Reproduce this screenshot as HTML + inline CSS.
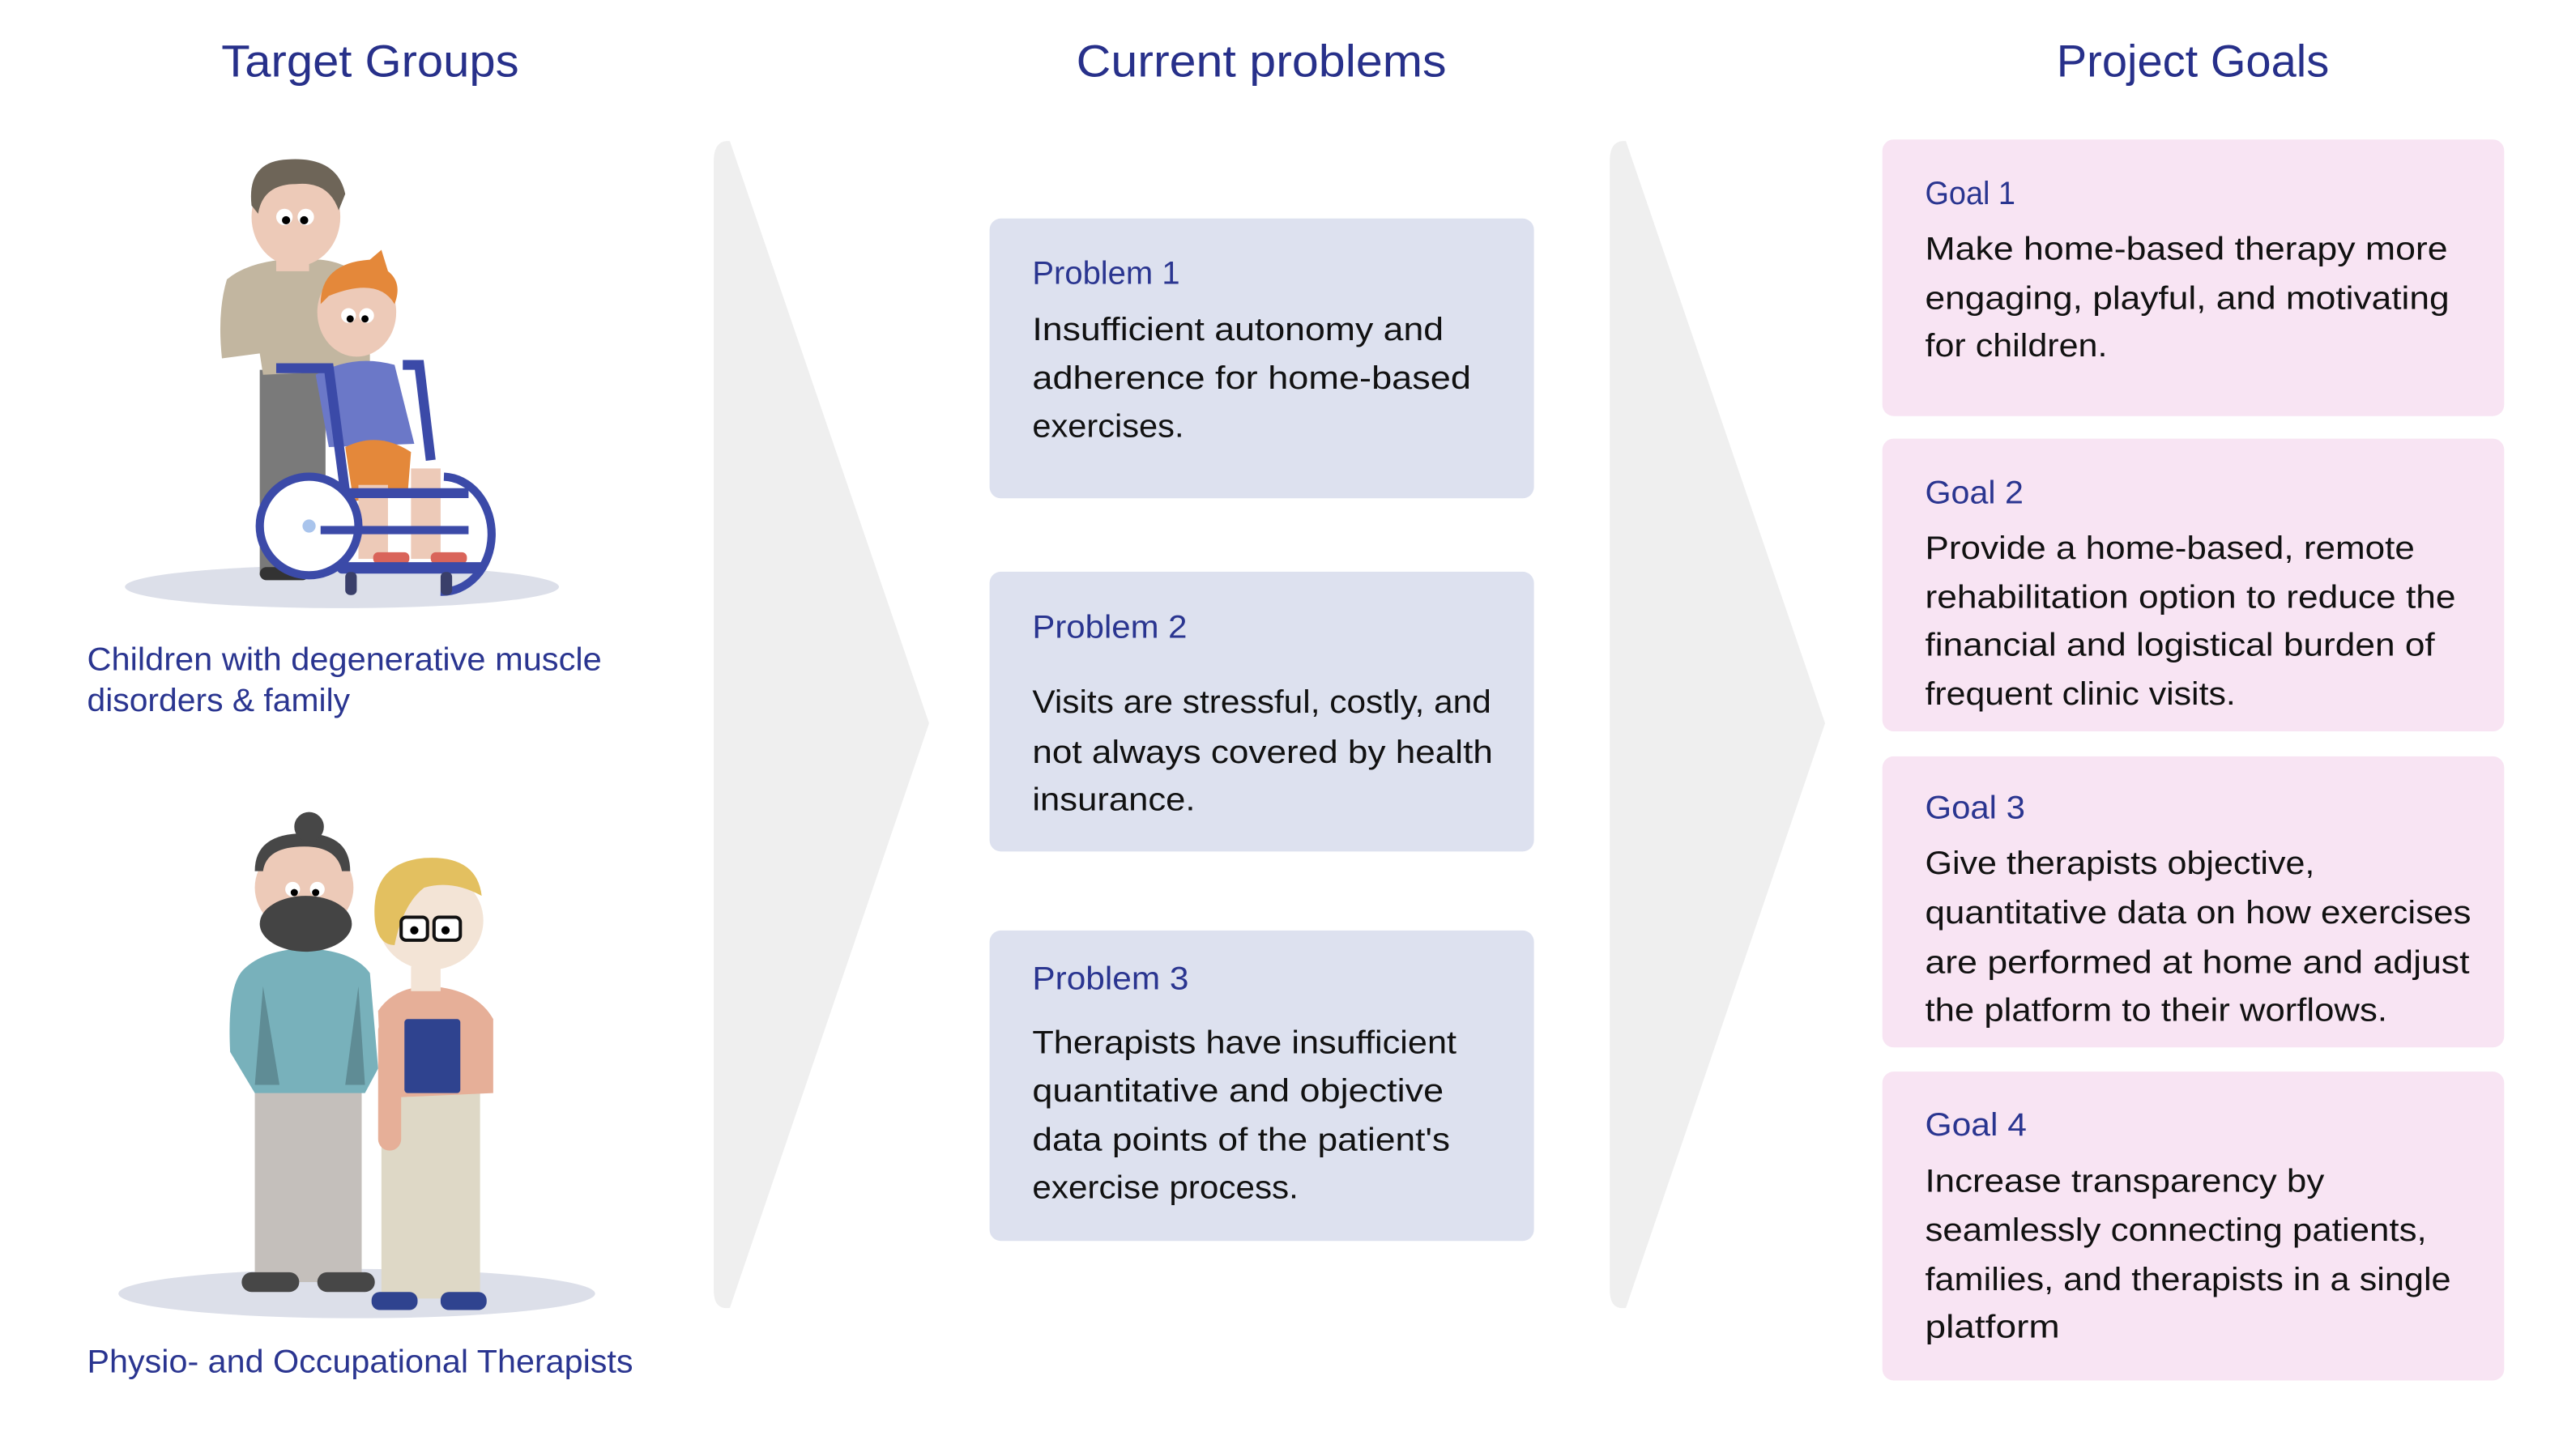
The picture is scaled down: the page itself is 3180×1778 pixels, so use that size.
<!DOCTYPE html>
<html><head><meta charset="utf-8"><style>
html,body{margin:0;padding:0;background:#fff;}
svg{display:block;}
text{font-family:"Liberation Sans",sans-serif;}
.t{fill:#27308a;font-size:56px;}
.l{fill:#2a3590;font-size:40px;}
.b{fill:#111;font-size:40px;}
.c{fill:#2a3590;font-size:40px;}
</style></head><body>
<svg width="3180" height="1778" viewBox="0 0 3180 1778" xmlns="http://www.w3.org/2000/svg">
<rect width="3180" height="1778" fill="#fff"/>
<g transform="scale(0.9956)">
<text class="t" x="459" y="95" text-anchor="middle" textLength="369" lengthAdjust="spacingAndGlyphs">Target Groups</text>
<text class="t" x="1564" y="95" text-anchor="middle" textLength="459" lengthAdjust="spacingAndGlyphs">Current problems</text>
<text class="t" x="2719" y="95" text-anchor="middle" textLength="338" lengthAdjust="spacingAndGlyphs">Project Goals</text>
<path d="M885,200 Q885,173 905,175 L1152,897 L905,1622 Q885,1625 885,1600 Z" fill="#efefef"/>
<path d="M1996,200 Q1996,173 2016,175 L2263,897 L2016,1622 Q1996,1625 1996,1600 Z" fill="#efefef"/>
<g fill="#dde1ef">
<rect x="1227" y="271" width="675" height="347" rx="14"/>
<rect x="1227" y="709" width="675" height="347" rx="14"/>
<rect x="1227" y="1154" width="675" height="385" rx="14"/>
</g>
<text class="l" x="1280" y="352" textLength="183" lengthAdjust="spacingAndGlyphs">Problem 1</text>
<text class="b" x="1280" y="422" textLength="510" lengthAdjust="spacingAndGlyphs">Insufficient autonomy and</text>
<text class="b" x="1280" y="482" textLength="544" lengthAdjust="spacingAndGlyphs">adherence for home-based</text>
<text class="b" x="1280" y="542" textLength="188" lengthAdjust="spacingAndGlyphs">exercises.</text>
<text class="l" x="1280" y="791" textLength="192" lengthAdjust="spacingAndGlyphs">Problem 2</text>
<text class="b" x="1280" y="884" textLength="569" lengthAdjust="spacingAndGlyphs">Visits are stressful, costly, and</text>
<text class="b" x="1280" y="946" textLength="571" lengthAdjust="spacingAndGlyphs">not always covered by health</text>
<text class="b" x="1280" y="1005" textLength="202" lengthAdjust="spacingAndGlyphs">insurance.</text>
<text class="l" x="1280" y="1227" textLength="194" lengthAdjust="spacingAndGlyphs">Problem 3</text>
<text class="b" x="1280" y="1306" textLength="526" lengthAdjust="spacingAndGlyphs">Therapists have insufficient</text>
<text class="b" x="1280" y="1366" textLength="510" lengthAdjust="spacingAndGlyphs">quantitative and objective</text>
<text class="b" x="1280" y="1427" textLength="518" lengthAdjust="spacingAndGlyphs">data points of the patient's</text>
<text class="b" x="1280" y="1486" textLength="330" lengthAdjust="spacingAndGlyphs">exercise process.</text>
<g fill="#f8e4f3">
<rect x="2334" y="173" width="771" height="343" rx="14"/>
<rect x="2334" y="544" width="771" height="363" rx="14"/>
<rect x="2334" y="938" width="771" height="361" rx="14"/>
<rect x="2334" y="1329" width="771" height="383" rx="14"/>
</g>
<text class="l" x="2387" y="253" textLength="112" lengthAdjust="spacingAndGlyphs">Goal 1</text>
<text class="b" x="2387" y="322" textLength="648" lengthAdjust="spacingAndGlyphs">Make home-based therapy more</text>
<text class="b" x="2387" y="383" textLength="650" lengthAdjust="spacingAndGlyphs">engaging, playful, and motivating</text>
<text class="b" x="2387" y="442" textLength="226" lengthAdjust="spacingAndGlyphs">for children.</text>
<text class="l" x="2387" y="624" textLength="122" lengthAdjust="spacingAndGlyphs">Goal 2</text>
<text class="b" x="2387" y="693" textLength="607" lengthAdjust="spacingAndGlyphs">Provide a home-based, remote</text>
<text class="b" x="2387" y="754" textLength="658" lengthAdjust="spacingAndGlyphs">rehabilitation option to reduce the</text>
<text class="b" x="2387" y="813" textLength="632" lengthAdjust="spacingAndGlyphs">financial and logistical burden of</text>
<text class="b" x="2387" y="874" textLength="385" lengthAdjust="spacingAndGlyphs">frequent clinic visits.</text>
<text class="l" x="2387" y="1015" textLength="124" lengthAdjust="spacingAndGlyphs">Goal 3</text>
<text class="b" x="2387" y="1084" textLength="483" lengthAdjust="spacingAndGlyphs">Give therapists objective,</text>
<text class="b" x="2387" y="1145" textLength="677" lengthAdjust="spacingAndGlyphs">quantitative data on how exercises</text>
<text class="b" x="2387" y="1207" textLength="675" lengthAdjust="spacingAndGlyphs">are performed at home and adjust</text>
<text class="b" x="2387" y="1266" textLength="573" lengthAdjust="spacingAndGlyphs">the platform to their worflows.</text>
<text class="l" x="2387" y="1408" textLength="126" lengthAdjust="spacingAndGlyphs">Goal 4</text>
<text class="b" x="2387" y="1478" textLength="495" lengthAdjust="spacingAndGlyphs">Increase transparency by</text>
<text class="b" x="2387" y="1539" textLength="622" lengthAdjust="spacingAndGlyphs">seamlessly connecting patients,</text>
<text class="b" x="2387" y="1600" textLength="652" lengthAdjust="spacingAndGlyphs">families, and therapists in a single</text>
<text class="b" x="2387" y="1659" textLength="167" lengthAdjust="spacingAndGlyphs">platform</text>
<text class="c" x="108" y="831" textLength="638" lengthAdjust="spacingAndGlyphs">Children with degenerative muscle</text>
<text class="c" x="108" y="882" textLength="326" lengthAdjust="spacingAndGlyphs">disorders &amp; family</text>
<text class="c" x="108" y="1702" textLength="677" lengthAdjust="spacingAndGlyphs">Physio- and Occupational Therapists</text>
<g transform="scale(2.0385)">
<ellipse cx="208" cy="357" rx="132" ry="13" fill="#dcdfe9"/>
<rect x="158" y="225" width="40" height="125" fill="#7a7a7a"/>
<rect x="158" y="345" width="30" height="8" rx="4" fill="#333"/>
<path d="M138,170 Q150,160 172,158 L195,158 Q215,160 225,175 L225,225 L160,228 L158,215 L135,218 Q132,190 138,170Z" fill="#c2b6a0"/>
<rect x="168" y="150" width="20" height="15" fill="#edcab8"/>
<ellipse cx="180" cy="132" rx="27" ry="30" fill="#edcab8"/>
<path d="M153,125 Q150,98 175,97 Q205,95 210,118 L206,128 Q200,110 180,112 Q160,112 157,130Z" fill="#6e6558"/>
<circle cx="173" cy="132" r="5" fill="#fff"/><circle cx="186" cy="132" r="5" fill="#fff"/>
<circle cx="174" cy="134" r="2.5" fill="#000"/><circle cx="185" cy="134" r="2.5" fill="#000"/>
<path d="M192,228 Q215,215 240,222 L252,270 L200,272 Z" fill="#6b78c8"/>
<ellipse cx="217" cy="190" rx="24" ry="27" fill="#edcab8"/>
<path d="M195,185 Q195,160 225,158 L232,152 L236,165 Q245,172 240,185 Q230,168 200,180Z" fill="#e4883a"/>
<circle cx="212" cy="192" r="4.5" fill="#fff"/><circle cx="223" cy="192" r="4.5" fill="#fff"/>
<circle cx="213" cy="194" r="2.2" fill="#000"/><circle cx="222" cy="194" r="2.2" fill="#000"/>
<path d="M210,272 Q230,262 250,275 L248,300 L215,305 Z" fill="#e4883a"/>
<rect x="218" y="295" width="18" height="45" fill="#edcab8"/>
<rect x="250" y="285" width="18" height="55" fill="#edcab8"/>
<rect x="227" y="336" width="22" height="7" rx="3" fill="#d9645a"/>
<rect x="262" y="336" width="22" height="7" rx="3" fill="#d9645a"/>
<path d="M168,224 L200,224 L210,300 L285,300" stroke="#3b4aa8" stroke-width="6" fill="none"/>
<path d="M245,222 L255,222 L262,280" stroke="#3b4aa8" stroke-width="6" fill="none"/>
<circle cx="188" cy="320" r="30" fill="#fff" stroke="#3b4aa8" stroke-width="5"/>
<circle cx="188" cy="320" r="4" fill="#a9c4ec"/>
<path d="M270,290 A30,35 0 0 1 268,360" stroke="#3b4aa8" stroke-width="5" fill="none"/>
<rect x="195" y="320" width="90" height="5" fill="#3b4aa8"/>
<rect x="205" y="342" width="90" height="7" rx="3" fill="#3b4aa8"/>
<rect x="210" y="348" width="7" height="14" rx="3" fill="#3a3f6a"/>
<rect x="268" y="348" width="7" height="14" rx="3" fill="#3a3f6a"/>
</g>
<g transform="scale(2.0385)">
<ellipse cx="217" cy="787" rx="145" ry="15" fill="#dcdfe9"/>
<rect x="155" y="662" width="65" height="118" fill="#c4bfbb"/>
<rect x="147" y="774" width="35" height="12" rx="6" fill="#474747"/>
<rect x="193" y="774" width="35" height="12" rx="6" fill="#474747"/>
<path d="M148,590 Q160,578 185,577 Q215,578 225,592 L230,650 L222,665 L155,665 L140,640 Q138,600 148,590Z" fill="#78b1bb"/>
<path d="M160,600 L170,660 L155,660Z M218,600 L210,660 L222,660Z" fill="#5f8c95"/>
<ellipse cx="185" cy="540" rx="30" ry="28" fill="#edcab8"/>
<ellipse cx="186" cy="562" rx="28" ry="17" fill="#444"/>
<path d="M155,530 Q155,507 185,507 Q213,507 213,530 L208,530 Q205,515 185,515 Q162,515 160,530Z" fill="#474747"/>
<circle cx="188" cy="503" r="9" fill="#474747"/>
<circle cx="178" cy="541" r="4.5" fill="#fff"/><circle cx="193" cy="541" r="4.5" fill="#fff"/>
<circle cx="179" cy="543" r="2.2" fill="#000"/><circle cx="192" cy="543" r="2.2" fill="#000"/>
<rect x="232" y="665" width="60" height="125" fill="#ded8c6"/>
<rect x="226" y="786" width="28" height="11" rx="5" fill="#2f438f"/>
<rect x="268" y="786" width="28" height="11" rx="5" fill="#2f438f"/>
<path d="M230,615 Q240,600 262,600 Q290,602 300,620 L300,665 L232,668 Z" fill="#e6af98"/>
<rect x="230" y="620" width="14" height="80" rx="7" fill="#e6af98"/>
<rect x="246" y="620" width="34" height="45" rx="2" fill="#2f438f"/>
<rect x="250" y="588" width="18" height="15" fill="#f3e4d6"/>
<ellipse cx="262" cy="560" rx="32" ry="30" fill="#f3e4d6"/>
<path d="M228,560 Q225,525 258,522 Q290,520 293,545 Q275,535 258,540 Q245,550 240,575 Q230,575 228,560Z" fill="#e3c060"/>
<rect x="244" y="558" width="16" height="14" rx="3" fill="#fff" stroke="#111" stroke-width="2"/>
<rect x="264" y="558" width="16" height="14" rx="3" fill="#fff" stroke="#111" stroke-width="2"/>
<circle cx="252" cy="566" r="2.5" fill="#000"/><circle cx="271" cy="566" r="2.5" fill="#000"/>
</g>
</g>
</svg>
</body></html>
